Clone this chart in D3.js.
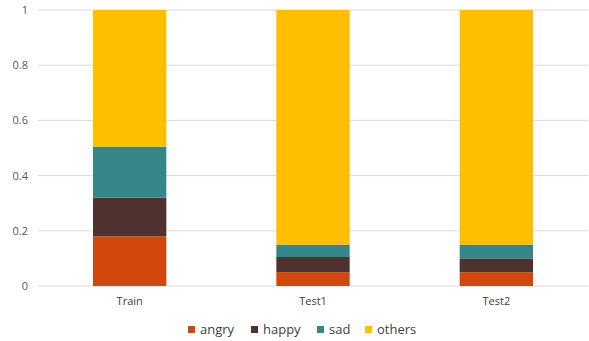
<!DOCTYPE html>
<html>
<head>
<meta charset="utf-8">
<script src="https://cdn.jsdelivr.net/npm/d3@7"></script>
<style>
  body { margin: 0; background: #fff; }
  text { font-family: "Open Sans", "Liberation Sans", sans-serif; fill: #595959; }
</style>
</head>
<body>
<div class="chart-container"></div>
<script>
const categories = ["Train", "Test1", "Test2"];
const seriesNames = ["angry", "happy", "sad", "others"];
const angry = [0.18, 0.05, 0.05];
const happy = [0.14, 0.055, 0.05];
const sad = [0.185, 0.045, 0.05];
const others = [0.495, 0.85, 0.85];
const yTicks = [0, 0.2, 0.4, 0.6, 0.8, 1];
const colors = ["#d2470b", "#4f3130", "#358689", "#fdbf00"];

const width = 589, height = 341;
const margin = { top: 10, right: 1, bottom: 55, left: 38 };

const rows = categories.map((c, i) => ({
  cat: c, angry: angry[i], happy: happy[i], sad: sad[i], others: others[i]
}));
const stacked = d3.stack().keys(seriesNames)(rows);

const svg = d3.select('.chart-container').append('svg')
  .attr('width', width)
  .attr('height', height);

const x = d3.scaleBand()
  .domain(categories)
  .range([margin.left, width - margin.right])
  .paddingInner(0.6)
  .paddingOuter(0.3);

const y = d3.scaleLinear()
  .domain([0, 1])
  .range([height - margin.bottom, margin.top]);

// gridlines
svg.append('g')
  .selectAll('line')
  .data(yTicks)
  .enter()
  .append('line')
  .attr('x1', margin.left)
  .attr('x2', width - margin.right)
  .attr('y1', d => y(d))
  .attr('y2', d => y(d))
  .attr('stroke', '#d9d9d9')
  .attr('stroke-width', 1);

// y axis labels
const yAxis = svg.append('g')
  .attr('transform', `translate(${margin.left - 10},0)`)
  .call(d3.axisLeft(y).tickValues(yTicks).tickSize(0).tickPadding(0).tickFormat(d3.format('~g')));
yAxis.select('.domain').remove();
yAxis.selectAll('text').style('font-size', '11px').style('fill', '#595959');

// bars
stacked.forEach((layer, i) => {
  svg.selectAll(`.bar-${layer.key}`)
    .data(layer)
    .enter()
    .append('rect')
    .attr('class', `bar-${layer.key}`)
    .attr('x', d => x(d.data.cat))
    .attr('y', d => y(d[1]))
    .attr('width', x.bandwidth())
    .attr('height', d => y(d[0]) - y(d[1]))
    .attr('fill', colors[i]);
});

// x axis labels
const xAxis = svg.append('g')
  .attr('transform', `translate(0,${height - margin.bottom})`)
  .call(d3.axisBottom(x).tickSize(0).tickPadding(11));
xAxis.select('.domain').remove();
xAxis.selectAll('text').style('font-size', '11px').style('fill', '#404040');

// legend
const legendX = [188, 251, 317, 365];
const legend = svg.append('g').attr('transform', `translate(0, 326)`);
seriesNames.forEach((name, i) => {
  const row = legend.append('g').attr('transform', `translate(${legendX[i]}, 0)`);
  row.append('rect')
    .attr('width', 7)
    .attr('height', 7)
    .attr('fill', colors[i]);
  row.append('text')
    .attr('x', 12)
    .attr('y', 7.5)
    .style('font-size', '13px')
    .style('fill', '#404040')
    .text(name);
});
</script>
</body>
</html>
